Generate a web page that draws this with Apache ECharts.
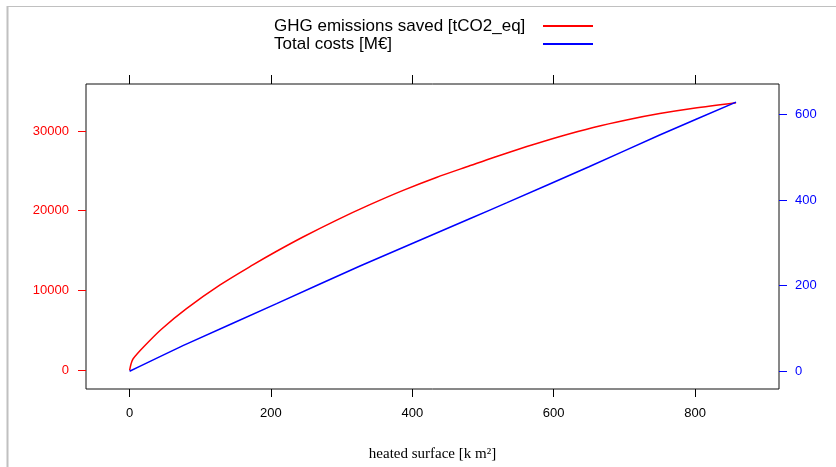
<!DOCTYPE html>
<html><head><meta charset="utf-8">
<script src="https://cdn.jsdelivr.net/npm/echarts@6/dist/echarts.min.js"></script>
<style>html,body{margin:0;padding:0;background:#fff}#c{width:836px;height:467px}</style>
</head><body><div id="c"></div>
<script>
// heated surface [k m2] vs GHG emissions saved [tCO2_eq]
const redX = [0, 2, 5, 20, 45, 80, 128, 175, 208, 246, 293, 340, 387, 434, 482, 515, 562, 609, 656, 703, 750, 798, 858];
const redY = [0, 800, 1450, 2950, 5150, 7700, 10700, 13240, 14920, 16740, 18830, 20760, 22550, 24170, 25660, 26680, 28040, 29310, 30440, 31380, 32180, 32850, 33540];
// heated surface [k m2] vs Total costs [M€]
const blueX = [0, 81, 208, 326, 482, 534, 650, 750, 858];
const blueY = [0, 64, 158, 246, 357, 394, 478, 552, 629];
const xTicks = [0, 200, 400, 600, 800];
const leftTicks = [0, 10000, 20000, 30000];
const rightTicks = [0, 200, 400, 600];
const seriesNames = ['GHG emissions saved [tCO2_eq]', 'Total costs [M€]'];
const xTitle = 'heated surface [k m²]';

const pair = (xs, ys) => xs.map((x, i) => [x, ys[i]]);
const SANS = '"Liberation Sans", Arial, sans-serif';
const plain = v => String(v);

const chart = echarts.init(document.getElementById('c'), null, {renderer: 'canvas'});
chart.setOption({
  animation: false,
  backgroundColor: '#fff',
  graphic: [
    {type: 'line', shape: {x1: 7.5, y1: 6, x2: 7.5, y2: 467}, style: {stroke: '#c0c0c0', lineWidth: 2}},
    {type: 'line', shape: {x1: 8, y1: 6.5, x2: 836, y2: 6.5}, style: {stroke: '#c0c0c0', lineWidth: 1}}
  ],
  legend: {
    orient: 'vertical', left: 269, top: 12, align: 'right', itemGap: 0,
    itemWidth: 50, itemHeight: 2, icon: 'rect',
    formatter: name => '{t|' + name + '}',
    textStyle: {fontFamily: SANS, fontSize: 17, color: '#000', lineHeight: 18,
      rich: {t: {fontFamily: SANS, fontSize: 17, color: '#000', width: 250, align: 'left', lineHeight: 18, padding: [0, 14, 0, 0]}}},
    data: seriesNames
  },
  grid: {left: 86, top: 84, right: 57, bottom: 73, show: true, borderColor: '#111', borderWidth: 1, backgroundColor: 'transparent'},
  xAxis: [
    {type: 'value', position: 'bottom', min: -61.7, max: 918.8,
     name: xTitle, nameLocation: 'middle', nameGap: 58,
     nameTextStyle: {fontFamily: '"Liberation Serif", "Times New Roman", serif', fontSize: 15, color: '#000'},
     axisLine: {show: false, onZero: false}, splitLine: {show: false},
     axisTick: {show: true, length: 8, customValues: xTicks, lineStyle: {color: '#000'}},
     axisLabel: {customValues: xTicks, formatter: plain, margin: 18, fontFamily: SANS, fontSize: 13, color: '#000'}},
    {type: 'value', position: 'top', min: -61.7, max: 918.8,
     axisLine: {show: false, onZero: false}, splitLine: {show: false},
     axisTick: {show: true, length: 9, customValues: xTicks, lineStyle: {color: '#000'}},
     axisLabel: {show: false}}
  ],
  yAxis: [
    {type: 'value', position: 'left', min: -2340, max: 35880,
     axisLine: {show: false, onZero: false}, splitLine: {show: false},
     axisTick: {show: true, length: 8, customValues: leftTicks, lineStyle: {color: '#ff0000'}},
     axisLabel: {customValues: leftTicks, formatter: plain, margin: 17, fontFamily: SANS, fontSize: 13, color: '#ff0000'}},
    {type: 'value', position: 'right', min: -41.4, max: 671.3,
     axisLine: {show: false, onZero: false}, splitLine: {show: false},
     axisTick: {show: true, length: 8, customValues: rightTicks, lineStyle: {color: '#0000ff'}},
     axisLabel: {customValues: rightTicks, formatter: plain, margin: 16, fontFamily: SANS, fontSize: 13, color: '#0000ff'}}
  ],
  series: [
    {name: seriesNames[0], type: 'line', xAxisIndex: 0, yAxisIndex: 0, data: pair(redX, redY),
     showSymbol: false, smooth: 0.3, color: '#ff0000', lineStyle: {width: 1.5, color: '#ff0000'}},
    {name: seriesNames[1], type: 'line', xAxisIndex: 0, yAxisIndex: 1, data: pair(blueX, blueY),
     showSymbol: false, smooth: 0.2, color: '#0000ff', lineStyle: {width: 1.5, color: '#0000ff'}}
  ]
});
</script></body></html>
